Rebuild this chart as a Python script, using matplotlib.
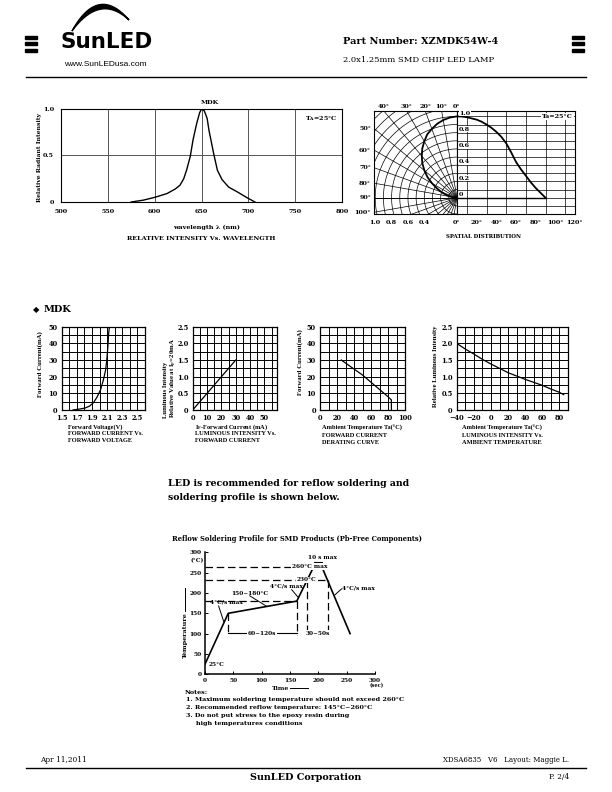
import numpy as np
import matplotlib
matplotlib.use('Agg')
import matplotlib.pyplot as plt
from matplotlib.patches import Polygon, Rectangle

plt.rcParams['font.family'] = ['DejaVu Serif']
plt.rcParams['font.weight'] = 'bold'
plt.rcParams['font.size'] = 4.6
plt.rcParams['axes.linewidth'] = 0.8

W, H = 612, 792
NARROW = 'Liberation Serif'

# relative intensity vs wavelength
wavelength = [575, 588, 600, 613, 622, 627, 631, 634, 638, 641, 645, 648, 650,
              653, 656, 658, 663, 667, 672, 679, 688, 698, 707]
rel_intensity = [0, 0.02, 0.05, 0.09, 0.14, 0.18, 0.25, 0.34, 0.49, 0.67, 0.85, 0.96, 1.0,
                 0.98, 0.9, 0.77, 0.52, 0.34, 0.24, 0.16, 0.11, 0.05, 0]

# spatial distribution
view_angle = [0, 5, 10, 15, 20, 25, 30, 35, 40, 45, 50, 55, 60, 65, 70, 75, 80, 85, 90]
spatial_rect = [1.0, 0.998, 0.99, 0.975, 0.96, 0.935, 0.9, 0.86, 0.81, 0.75, 0.67,
                0.56, 0.44, 0.35, 0.27, 0.19, 0.12, 0.06, 0.0]
spatial_polar = [1.0, 0.99, 0.97, 0.94, 0.9, 0.86, 0.8, 0.74, 0.67, 0.6, 0.52,
                 0.44, 0.35, 0.27, 0.2, 0.14, 0.09, 0.04, 0.0]

# forward current vs forward voltage
vf = [1.65, 1.74, 1.81, 1.87, 1.92, 1.97, 2.015, 2.05, 2.08, 2.095, 2.11, 2.12, 2.13]
if_vf = [0, 0.6, 1.2, 2.4, 4.4, 8, 12.4, 18, 24, 30, 38, 46, 50]

# luminous intensity vs forward current
if_lum = [0, 10, 20, 30]
lum_if = [0, 0.5, 1.0, 1.5]

# derating curve
ta_der = [25, 50, 80, 84, 84]
if_der = [30, 21, 8, 6, 0]

# luminous intensity vs ambient temperature
ta_lum = [-40, -30, -20, -10, 0, 10, 20, 30, 40, 50, 60, 70, 80, 85]
lum_ta = [2.0, 1.83, 1.68, 1.52, 1.38, 1.25, 1.12, 1.02, 0.92, 0.83, 0.74, 0.63, 0.53, 0.46]

# reflow profile
profile_time = [0, 41, 162, 192, 206, 256]
profile_temp = [25, 150, 180, 265, 265, 100]

fig = plt.figure(figsize=(W / 100, H / 100), dpi=100)
pg = fig.add_axes([0, 0, 1, 1])
pg.set_xlim(0, W)
pg.set_ylim(H, 0)
pg.axis('off')


def place(x0, y0, x1, y1):
    return fig.add_axes([x0 / W, 1 - y1 / H, (x1 - x0) / W, (y1 - y0) / H])


def txt(x, y, s, size=4.6, ha='left', va='center', weight='bold', **kw):
    pg.text(x, y, s, fontsize=size, ha=ha, va=va, fontweight=weight, **kw)


# ---- header ----
for x0 in (25, 572):
    for yb in (37, 43.5, 50):
        pg.add_patch(Rectangle((x0, yb - 1.5), 12, 3, color='black'))

t = np.linspace(0, 1, 60)
def bez(p0, p1, p2):
    return [((1 - s) ** 2 * p0[0] + 2 * (1 - s) * s * p1[0] + s ** 2 * p2[0],
             (1 - s) ** 2 * p0[1] + 2 * (1 - s) * s * p1[1] + s ** 2 * p2[1]) for s in t]
outer = bez((72, 31), (98, -16), (129, 20))
inner = bez((72, 31), (100, -7), (129, 20))
pg.add_patch(Polygon(outer + inner[::-1], closed=True, color='black'))
pg.text(107, 42, 'SunLED', fontsize=15.5, fontweight='bold', family='DejaVu Sans',
        ha='center', va='center')
pg.text(105, 65, 'www.SunLEDusa.com', fontsize=6, fontweight='normal',
        family='Liberation Sans', ha='center', va='center')
txt(343, 42, 'Part Number: XZMDK54W-4', size=7.0)
txt(343, 60, '2.0x1.25mm SMD CHIP LED LAMP', size=6.0, weight='normal')
pg.plot([26, 586], [77, 77], color='black', lw=1.0)

# ---- relative intensity vs wavelength ----
ax = place(61, 109, 342, 202)
ax.plot(wavelength, rel_intensity, color='black', lw=1.0)
ax.set_xlim(500, 800)
ax.set_ylim(0, 1.0)
ax.set_xticks(range(500, 801, 50))
ax.set_yticks([0, 0.5, 1.0])
ax.set_yticklabels(['0', '0.5', '1.0'])
ax.tick_params(length=0, pad=5, labelsize=4.6)
ax.grid(True, color='#555555', lw=0.7)
ax.set_axisbelow(True)
ax.text(795, 0.9, 'T$_\\mathregular{A}$=25°C', ha='right', va='center', fontsize=4.6)
txt(201, 102, 'MDK')
pg.text(39, 157, 'Relative Radiant Intensity', rotation=90, ha='center', va='center',
        fontsize=4.4)
txt(207, 227, 'wavelength λ (nm)', ha='center')
txt(201, 238, 'RELATIVE INTENSITY Vs. WAVELENGTH', ha='center')

# ---- spatial distribution ----
axL = place(374, 110.7, 457, 214)
axL.set_xlim(-1.015, 0)
axL.set_ylim(-0.2, 1.07)
th = np.linspace(0, np.pi, 200)
for r in np.arange(0.1, 1.55, 0.1):
    axL.plot(-r * np.sin(th), r * np.cos(th), color='black', lw=0.5)
for a in range(0, 181, 10):
    ar = np.radians(a)
    axL.plot([0, -2 * np.sin(ar)], [0, 2 * np.cos(ar)], color='black', lw=0.5)
axL.axhline(0, color='black', lw=0.7)
pa = np.radians(view_angle)
axL.plot(-np.array(spatial_polar) * np.sin(pa), np.array(spatial_polar) * np.cos(pa),
         color='black', lw=1.3)
axL.set_xticks([-1.0, -0.8, -0.6, -0.4])
axL.set_xticklabels(['1.0', '0.8', '0.6', '0.4'])
axL.set_yticks([])
axL.tick_params(length=0, pad=4.5, labelsize=4.6)
for a in [40, 30, 20, 10, 0]:
    axL.text(-1.07 * np.tan(np.radians(a)), 1.09, f'{a}°', ha='center', va='bottom',
             fontsize=4.6)
for a in [50, 60, 70, 80, 90, 100]:
    axL.text(-1.05, 1.015 / np.tan(np.radians(a)), f'{a}°', ha='right', va='center',
             fontsize=4.6)

axR = place(457, 110.7, 575, 214)
axR.set_xlim(0, 120)
axR.set_ylim(-0.2, 1.07)
axR.set_xticks(range(0, 121, 20))
axR.set_xticklabels([f'{v}°' for v in range(0, 121, 20)])
axR.set_xticks(range(0, 121, 10), minor=True)
axR.set_yticks(np.arange(-0.2, 1.05, 0.1), minor=True)
axR.set_yticks([])
axR.grid(True, which='minor', color='black', lw=0.5)
axR.tick_params(which='both', length=0, pad=4.5, labelsize=4.6)
axR.plot([0, 90], [0, 0], color='black', lw=1.0)
axR.plot(view_angle, spatial_rect, color='black', lw=1.3)
for v in [1.0, 0.8, 0.6, 0.4, 0.2, 0]:
    axR.text(2, v + 0.04, f'{v:.1f}' if v else '0', ha='left', va='center', fontsize=4.6,
             bbox=dict(facecolor='white', edgecolor='none', pad=0.3))
axR.text(118, 1.0, 'Ta=25°C', ha='right', va='center', fontsize=4.6,
         bbox=dict(facecolor='white', edgecolor='none', pad=0.5))
txt(484, 237, 'SPATIAL DISTRIBUTION', ha='center', size=3.9)


# ---- small characteristic charts ----
def grid_chart(ax, xlim, ylim, xmajor, xminor, ymajor, yminor, xlabels, ylabels):
    ax.set_xlim(*xlim)
    ax.set_ylim(*ylim)
    ax.set_xticks(xmajor)
    ax.set_xticklabels(xlabels)
    ax.set_xticks(xminor, minor=True)
    ax.set_yticks(ymajor)
    ax.set_yticklabels(ylabels)
    ax.set_yticks(yminor, minor=True)
    ax.tick_params(which='both', length=0, pad=3.0, labelsize=4.8)
    ax.grid(True, which='both', color='black', lw=0.7)
    ax.set_axisbelow(True)
    for s in ax.spines.values():
        s.set_linewidth(0.9)


def caption(x, ys, lines):
    for y, s in zip(ys, lines):
        pg.text(x, y, s, fontsize=4.6, family=NARROW, fontweight='bold',
                ha='left', va='center')


pg.text(36, 310, '◆', fontsize=6, ha='center', va='center', family='DejaVu Sans')
txt(44, 310, 'MDK', size=7)

ax1 = place(61.7, 326.7, 145, 410)
grid_chart(ax1, (1.5, 2.6), (0, 50), [1.5, 1.7, 1.9, 2.1, 2.3, 2.5],
           np.arange(1.5, 2.65, 0.1), range(0, 51, 10), range(0, 51, 5),
           ['1.5', '1.7', '1.9', '2.1', '2.3', '2.5'], [str(v) for v in range(0, 51, 10)])
ax1.plot(vf, if_vf, color='black', lw=0.9)
pg.text(40, 364, 'Forward Current(mA)', rotation=90, ha='center', va='center',
        fontsize=4.9, family=NARROW)
caption(68, [427, 433.5, 440], ['Forward Voltage(V)', 'FORWARD CURRENT Vs.', 'FORWARD VOLTAGE'])

ax2 = place(192.7, 326.7, 276.7, 410)
grid_chart(ax2, (0, 58.5), (0, 2.5), range(0, 51, 10), range(0, 56, 5),
           [0, 0.5, 1.0, 1.5, 2.0, 2.5], np.arange(0, 2.6, 0.25),
           [str(v) for v in range(0, 51, 10)], ['0', '0.5', '1.0', '1.5', '2.0', '2.5'])
ax2.plot(if_lum, lum_if, color='black', lw=0.9)
pg.text(166, 418, 'Luminous Intensity', rotation=90, rotation_mode='anchor',
        ha='left', va='center', fontsize=4.9, family=NARROW)
pg.text(173.5, 418, 'Relative Value at I$_\\mathregular{F}$=20mA', rotation=90,
        rotation_mode='anchor', ha='left', va='center', fontsize=4.9, family=NARROW)
caption(195, [427, 433.5, 440], ['I$_\\mathregular{F}$-Forward Current (mA)',
                                 'LUMINOUS INTENSITY Vs.', 'FORWARD CURRENT'])

ax3 = place(320, 326.7, 405, 410)
grid_chart(ax3, (0, 100), (0, 50), range(0, 101, 20), range(0, 101, 10),
           range(0, 51, 10), range(0, 51, 5),
           [str(v) for v in range(0, 101, 20)], [str(v) for v in range(0, 51, 10)])
ax3.plot(ta_der, if_der, color='black', lw=0.9)
pg.text(300, 362, 'Forward Current(mA)', rotation=90, ha='center', va='center',
        fontsize=4.9, family=NARROW)
caption(322, [428, 435.5, 442.5], ['Ambient Temperature Ta(°C)', 'FORWARD CURRENT',
                                   'DERATING CURVE'])

ax4 = place(456.7, 326.7, 568, 410)
grid_chart(ax4, (-40, 90), (0, 2.5), range(-40, 81, 20), range(-40, 91, 10),
           [0, 0.5, 1.0, 1.5, 2.0, 2.5], np.arange(0, 2.6, 0.25),
           [str(v).replace('-', '−') for v in range(-40, 81, 20)],
           ['0', '0.5', '1.0', '1.5', '2.0', '2.5'])
ax4.plot(ta_lum, lum_ta, color='black', lw=0.9)
pg.text(435.5, 366, 'Relative Luminous Intensity', rotation=90, ha='center', va='center',
        fontsize=4.9, family=NARROW)
caption(461.7, [428, 435.5, 442.5], ['Ambient Temperature Ta(°C)', 'LUMINOUS INTENSITY Vs.',
                                     'AMBIENT TEMPERATURE'])

# ---- reflow text ----
txt(168, 483, 'LED is recommended for reflow soldering and', size=6.75)
txt(168, 498, 'soldering profile is shown below.', size=6.75)

# ---- reflow profile ----
txt(297, 539, 'Reflow Soldering Profile for SMD Products (Pb-Free Components)',
    ha='center', size=4.9)
axr = place(205, 552.3, 375, 674.3)
axr.set_xlim(0, 300)
axr.set_ylim(0, 300)
axr.spines['top'].set_visible(False)
axr.spines['right'].set_visible(False)
for s in ('left', 'bottom'):
    axr.spines[s].set_linewidth(1.1)
axr.set_xticks(range(0, 301, 50))
axr.set_yticks(range(0, 301, 50))
axr.tick_params(length=2, direction='in', pad=2.5, labelsize=4.2, width=0.7)
axr.text(-14, 279, '(°C)', ha='center', va='center', fontsize=4.2)
axr.text(303, -27, '(sec)', ha='center', va='center', fontsize=3.6)

axr.plot(profile_time, profile_temp, color='black', lw=1.2, zorder=3)
dash = dict(color='black', lw=0.9, ls=(0, (6, 3)))
axr.plot([0, 190], [265, 265], **dash)
axr.plot([0, 216], [232, 232], **dash)
axr.plot([0, 162], [180, 180], **dash)
for tx, ty in [(41, 150), (162, 180), (180, 232), (217, 232)]:
    axr.plot([tx, tx], [ty, 96], **dash)
axr.plot([41, 162], [101, 101], color='black', lw=0.8)
axr.plot([180, 217], [101, 101], color='black', lw=0.8)
axr.plot([192, 192, 206, 206], [265, 275, 275, 265], color='black', lw=0.8)

box = dict(facecolor='white', edgecolor='none', pad=0.4)
axr.text(101, 101, '60~120s', ha='center', va='center', fontsize=4.2, bbox=box, zorder=4)
axr.text(198.5, 101, '30~50s', ha='center', va='center', fontsize=4.2, bbox=box, zorder=4)
axr.text(153, 265, '260°C max', ha='left', va='center', fontsize=4.2, bbox=box, zorder=4)
axr.text(162, 232, '230°C', ha='left', va='center', fontsize=4.2, bbox=box, zorder=4)
axr.text(182, 288, '10 s max', ha='left', va='center', fontsize=4.2)
axr.text(7, 23, '25°C', ha='left', va='center', fontsize=4.2)
axr.text(9, 177, '4°C/s max', ha='left', va='center', fontsize=4.2)
axr.plot([24, 33], [168, 130], color='black', lw=0.7)
axr.text(47, 198, '150~180°C', ha='left', va='center', fontsize=4.2)
axr.plot([79, 109], [193, 167], color='black', lw=0.7)
axr.text(115, 216, '4°C/s max', ha='left', va='center', fontsize=4.2)
axr.plot([153, 164], [208, 190], color='black', lw=0.7)
axr.text(241, 211, '4°C/s max', ha='left', va='center', fontsize=4.2)
axr.plot([241, 229], [210, 195], color='black', lw=0.7)

pg.text(185, 635, 'Temperature', rotation=90, ha='center', va='center', fontsize=4.6)
pg.plot([185, 185], [611, 588], color='black', lw=0.7)
txt(272, 688, 'Time', size=4.4)
pg.plot([290, 308], [688, 688], color='black', lw=0.7)

txt(185, 692, 'Notes:', size=4.6)
txt(186, 700, '1. Maximum soldering temperature should not exceed 260°C', size=4.6)
txt(186, 708, '2. Recommended reflow temperature: 145°C~260°C', size=4.6)
txt(186, 716, '3. Do not put stress to the epoxy resin during', size=4.6)
txt(196, 723.5, 'high temperatures conditions', size=4.6)

# ---- footer ----
txt(40, 760, 'Apr 11,2011', size=5.3, weight='normal')
txt(569, 760, 'XDSA6835   V6   Layout: Maggie L.', size=5.0, weight='normal', ha='right')
pg.plot([26, 586], [768, 768], color='black', lw=1.0)
txt(306, 777, 'SunLED Corporation', size=6.9, ha='center')
txt(569, 777, 'P. 2/4', size=5.3, weight='normal', ha='right')

fig.savefig('out.png', dpi=100)
